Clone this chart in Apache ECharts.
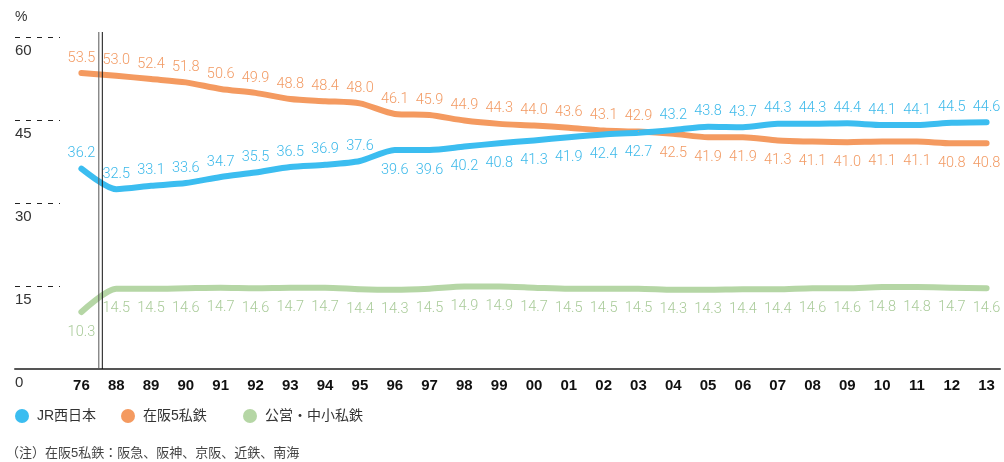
<!DOCTYPE html>
<html><head><meta charset="utf-8">
<script src="https://cdn.jsdelivr.net/npm/echarts/dist/echarts.min.js"></script>
<style>html,body{margin:0;padding:0;background:#fff}#c{width:1004px;height:462px}</style>
</head><body><div id="c"></div>
<script>
// ---- data ----
const years = ['76','88','89','90','91','92','93','94','95','96','97','98','99','00','01','02','03','04','05','06','07','08','09','10','11','12','13'];
const jrWest = [36.2,32.5,33.1,33.6,34.7,35.5,36.5,36.9,37.6,39.6,39.6,40.2,40.8,41.3,41.9,42.4,42.7,43.2,43.8,43.7,44.3,44.3,44.4,44.1,44.1,44.5,44.6];
const osaka5 = [53.5,53.0,52.4,51.8,50.6,49.9,48.8,48.4,48.0,46.1,45.9,44.9,44.3,44.0,43.6,43.1,42.9,42.5,41.9,41.9,41.3,41.1,41.0,41.1,41.1,40.8,40.8];
const publicSmall = [10.3,14.5,14.5,14.6,14.7,14.6,14.7,14.7,14.4,14.3,14.5,14.9,14.9,14.7,14.5,14.5,14.5,14.3,14.3,14.4,14.4,14.6,14.6,14.8,14.8,14.7,14.6];
const yTicks = [0, 15, 30, 45, 60];
const seriesNames = ['JR西日本', '在阪5私鉄', '公営・中小私鉄'];
const unitLabel = '%';
const noteText = '（注）在阪5私鉄：阪急、阪神、京阪、近鉄、南海';
// years whose value labels sit below the line
const jrBelowYears = ['96','97','98','99','00','01','02','03'];
const osakaBelowYears = ['04','05','06','07','08','09','10','11','12','13'];

// ---- style ----
const COLORS = { jr: '#3bbdf0', osaka: '#f49a60', pub: '#b5d6a5' };
const LABEL_COLORS = { jr: '#3cb9ea', osaka: '#f29a63', pub: '#a9cb99' };
const NUM_FONT = '"Roboto", sans-serif';
const TXT_FONT = '"Liberation Sans", "Noto Sans CJK JP", sans-serif';
const yMin = yTicks[0], yMax = yTicks[yTicks.length - 1];
const yStep = yTicks[1] - yTicks[0];

function labelled(values, isBelow) {
  return values.map((v, i) => {
    const below = isBelow(years[i]);
    return { value: v, label: { position: below ? 'bottom' : 'top', distance: below ? 12 : 7 } };
  });
}

function lineSeries(name, values, isBelow, key) {
  return {
    type: 'line', name, xAxisIndex: 0, yAxisIndex: 0,
    data: labelled(values, isBelow),
    smooth: 0.25,
    symbol: 'circle', symbolSize: 1, showSymbol: true,
    itemStyle: { color: COLORS[key] },
    lineStyle: { color: COLORS[key], width: 6, cap: 'round', join: 'round' },
    label: { show: true, color: LABEL_COLORS[key], fontSize: 14.5, fontWeight: 300, fontFamily: NUM_FONT,
      formatter: p => Number(p.value).toFixed(1) },
    emphasis: { disabled: true },
    silent: true
  };
}

const chart = echarts.init(document.getElementById('c'), null, { renderer: 'canvas' });
const legendBase = {
  orient: 'horizontal', top: 409, padding: 0, icon: 'circle', itemWidth: 14, itemHeight: 14,
  textStyle: { color: '#333', fontSize: 14, fontFamily: TXT_FONT, padding: [0, 0, 0, 3] },
  selectedMode: false
};
chart.setOption({
  animation: false,
  backgroundColor: '#fff',
  grid: [
    { left: 64, width: 941, top: 37, bottom: 93 },
    { left: 15, right: 4, top: 37, bottom: 93 },
    { left: 15, width: 45, top: 37, bottom: 93 }
  ],
  xAxis: [
    { type: 'category', gridIndex: 0, data: years, boundaryGap: true,
      axisLine: { show: false }, axisTick: { show: false }, splitLine: { show: false },
      axisLabel: { color: '#111', fontWeight: 'bold', fontSize: 15, fontFamily: TXT_FONT, margin: 9, interval: 0 } },
    { type: 'value', gridIndex: 1, min: 0, max: 1, z: 5,
      axisLine: { show: true, lineStyle: { color: '#555', width: 2 } },
      axisTick: { show: false }, axisLabel: { show: false }, splitLine: { show: false } },
    { type: 'value', gridIndex: 2, min: 0, max: 1, show: false }
  ],
  yAxis: [
    { type: 'value', gridIndex: 0, min: yMin, max: yMax, show: false },
    { type: 'value', gridIndex: 1, min: yMin, max: yMax, show: false },
    { type: 'value', gridIndex: 2, min: yMin, max: yMax, interval: yStep,
      axisLine: { show: false }, axisTick: { show: false },
      splitLine: { show: true, lineStyle: { type: [5, 6], color: '#222', width: 1 } },
      axisLabel: { inside: true, margin: 0, verticalAlign: 'top', padding: [6, 0, 0, 0],
        color: '#333', fontSize: 15, fontFamily: TXT_FONT },
      name: unitLabel, nameLocation: 'end', nameGap: 13,
      nameTextStyle: { align: 'left', color: '#333', fontSize: 14, fontFamily: TXT_FONT } }
  ],
  legend: [
    Object.assign({}, legendBase, { left: 15, data: [seriesNames[0]] }),
    Object.assign({}, legendBase, { left: 121, data: [seriesNames[1]] }),
    Object.assign({}, legendBase, { left: 243, data: [seriesNames[2]] })
  ],
  series: [
    lineSeries(seriesNames[2], publicSmall, () => true, 'pub'),
    lineSeries(seriesNames[1], osaka5, y => osakaBelowYears.includes(y), 'osaka'),
    lineSeries(seriesNames[0], jrWest, y => jrBelowYears.includes(y), 'jr')
  ]
});

// axis-break double line between the first two categories, placed via the axis scale
const p0 = chart.convertToPixel({ xAxisIndex: 0 }, years[0]);
const p1 = chart.convertToPixel({ xAxisIndex: 0 }, years[1]);
const yTop = chart.convertToPixel({ yAxisIndex: 0 }, yMax) - 5;
const yBot = chart.convertToPixel({ yAxisIndex: 0 }, yMin);
const bx = p0 + (p1 - p0) * 0.5;
chart.setOption({
  graphic: [
    { type: 'text', left: 6, top: 447,
      style: { text: noteText, fontSize: 13, fill: '#444', fontFamily: TXT_FONT } },
    { type: 'line', shape: { x1: bx, y1: yTop, x2: bx, y2: yBot }, style: { stroke: '#555', lineWidth: 1 }, z: 10 },
    { type: 'line', shape: { x1: bx + 3.5, y1: yTop, x2: bx + 3.5, y2: yBot }, style: { stroke: '#111', lineWidth: 1 }, z: 10 }
  ]
});
</script>
</body></html>
